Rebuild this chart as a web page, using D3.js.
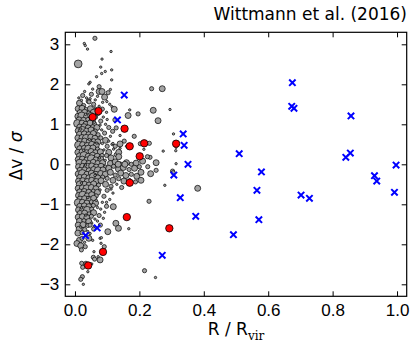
<!DOCTYPE html>
<html><head><meta charset="utf-8">
<script src="https://cdn.jsdelivr.net/npm/d3@7"></script>
<style>body{margin:0;background:#fff}svg{display:block}</style>
</head><body>
<script>
// Tick values
const xTicks = [0.0, 0.2, 0.4, 0.6, 0.8, 1.0];
const yTicks = [-3, -2, -1, 0, 1, 2, 3];

// Member galaxies outside the core: [R/Rvir, dv/sigma, size class 1..4]
const grayOuter = [
  [0.062,3.15,2],[0.029,3.02,1],[0.032,2.97,1],[0.039,2.88,1],[0.112,2.82,1],[0.010,2.51,4],
  [0.084,2.63,1],[0.080,2.43,1],[0.114,2.36,1],[0.094,2.32,1],[0.083,2.27,1],[0.067,2.19,1],
  [0.114,2.11,1],[0.047,2.05,1],[0.043,2.01,1],[0.075,1.94,2],[0.075,1.82,3],[0.084,1.82,3],
  [0.103,1.79,2],[0.110,1.87,1],[0.238,1.89,2],[0.271,1.89,3],[0.122,1.375,3],[0.170,1.36,1],
  [0.165,1.22,3],[0.196,1.26,2],[0.243,1.35,3],[0.258,1.09,3],[0.295,1.37,1],[0.124,1.11,2],
  [0.117,0.825,2],[0.184,0.70,2],[0.140,0.51,3],[0.153,0.58,2],[0.231,0.525,2],[0.203,0.515,2],
  [0.306,0.76,1],[0.314,0.425,1],[0.136,0.30,3],[0.136,0.19,3],[0.233,0.175,2],[0.214,0.375,1],
  [0.274,0.33,1],[0.313,0.34,1],[0.252,0.04,3],[0.134,0.0,3],[0.155,0.0,3],[0.314,0.015,1],
  [0.225,0.19,2],[0.210,0.08,3],[0.226,-0.06,2],[0.252,-0.15,2],[0.235,-0.235,3],[0.303,-0.17,2],
  [0.305,-0.21,2],[0.381,-0.60,3],[0.279,-0.525,1],[0.230,-0.925,2],[0.216,-2.66,2],[0.250,-2.83,1],
  [0.119,-1.06,3],[0.127,-1.475,3],[0.135,-1.6,3],[0.167,-1.61,1],[0.102,-1.685,3],[0.078,-1.85,1],
  [0.081,-1.975,1],[0.091,-2.06,2],[0.078,-2.39,3],[0.072,-2.31,1],[0.057,-2.325,2],[0.021,-2.475,2],
  [0.024,-2.575,2],[0.052,-2.49,1],[0.023,-2.81,2],[0.018,-2.875,2],[0.026,-3.0,1],
  [0.047,-1.52,2],[0.058,-1.62,2],[0.079,-1.52,2],[0.043,-1.85,3],[0.022,-1.85,2],[0.082,-1.835,1],
  [0.018,-2.035,3],[0.020,-2.14,2],[0.032,-2.06,2],[0.059,-2.185,1],[0.061,-2.37,2],[0.034,-2.475,2],
  [0.040,-2.685,1]
];

// Dense core of the cluster
const grayCore = [
  [0.024,1.72,2],[0.036,1.66,1],[0.051,1.75,2],[0.063,1.61,1],[0.092,1.68,3],[0.099,1.57,1],[0.041,1.58,2],
  [0.070,1.70,1],[0.030,1.82,1],[0.055,1.88,1],[0.108,1.50,1],[0.115,1.44,1],
  [0.014,1.53,3],[0.027,1.47,2],[0.044,1.56,2],[0.058,1.50,2],
  [0.010,1.39,3],[0.022,1.40,3],[0.035,1.37,2],[0.048,1.39,3],[0.063,1.41,1],
  [0.016,1.29,3],[0.030,1.30,3],[0.043,1.28,2],[0.057,1.30,3],
  [0.009,1.20,3],[0.021,1.21,4],[0.036,1.19,3],[0.049,1.22,3],[0.064,1.18,2],
  [0.013,1.11,3],[0.027,1.10,3],[0.040,1.12,2],[0.054,1.09,3],
  [0.008,1.02,4],[0.022,1.03,3],[0.034,1.00,3],[0.047,1.03,3],[0.061,1.01,2],
  [0.015,0.93,3],[0.028,0.94,3],[0.041,0.91,3],[0.055,0.94,2],[0.068,0.92,3],
  [0.010,0.84,3],[0.023,0.85,4],[0.036,0.83,3],[0.050,0.86,3],[0.063,0.83,2],
  [0.014,0.75,3],[0.029,0.76,3],[0.043,0.74,3],[0.057,0.77,3],[0.072,0.74,2],
  [0.009,0.66,3],[0.022,0.67,3],[0.035,0.65,4],[0.049,0.68,3],[0.062,0.65,3],
  [0.016,0.57,3],[0.030,0.58,3],[0.044,0.56,3],[0.058,0.59,2],[0.071,0.56,3],
  [0.011,0.48,4],[0.024,0.49,3],[0.038,0.47,3],[0.052,0.50,3],[0.066,0.47,3],
  [0.015,0.39,3],[0.029,0.40,3],[0.042,0.38,4],[0.056,0.41,3],[0.070,0.38,2],
  [0.009,0.30,3],[0.022,0.31,3],[0.036,0.29,3],[0.050,0.32,3],[0.064,0.29,3],[0.079,0.31,3],
  [0.014,0.21,3],[0.028,0.22,4],[0.041,0.20,3],[0.055,0.23,3],[0.069,0.20,3],[0.084,0.22,2],
  [0.010,0.12,3],[0.023,0.13,3],[0.037,0.11,3],[0.051,0.14,4],[0.065,0.11,3],[0.080,0.13,3],
  [0.015,0.03,4],[0.029,0.04,3],[0.043,0.02,3],[0.057,0.05,3],[0.071,0.02,3],[0.086,0.04,3],
  [0.011,-0.06,3],[0.024,-0.05,3],[0.038,-0.07,4],[0.052,-0.04,3],[0.066,-0.07,3],[0.081,-0.05,3],[0.095,-0.07,2],
  [0.016,-0.15,3],[0.030,-0.14,3],[0.044,-0.16,3],[0.058,-0.13,3],[0.072,-0.16,4],[0.087,-0.14,3],
  [0.010,-0.24,3],[0.023,-0.23,4],[0.037,-0.25,3],[0.051,-0.22,3],[0.065,-0.25,3],[0.080,-0.23,3],[0.094,-0.25,3],
  [0.015,-0.33,3],[0.029,-0.32,3],[0.043,-0.34,3],[0.057,-0.31,4],[0.071,-0.34,3],[0.086,-0.32,2],
  [0.011,-0.42,3],[0.024,-0.41,3],[0.038,-0.43,3],[0.052,-0.40,3],[0.066,-0.43,3],[0.081,-0.41,3],
  [0.016,-0.51,4],[0.030,-0.50,3],[0.044,-0.52,3],[0.058,-0.49,3],[0.073,-0.52,2],
  [0.010,-0.60,3],[0.023,-0.59,3],[0.037,-0.61,4],[0.051,-0.58,3],[0.065,-0.61,3],
  [0.015,-0.69,3],[0.029,-0.68,3],[0.043,-0.70,3],[0.057,-0.67,2],[0.070,-0.70,3],
  [0.011,-0.78,3],[0.024,-0.77,4],[0.038,-0.79,3],[0.052,-0.76,3],[0.066,-0.79,2],
  [0.016,-0.87,3],[0.030,-0.86,3],[0.044,-0.88,3],[0.058,-0.85,3],
  [0.010,-0.96,4],[0.023,-0.95,3],[0.037,-0.97,3],[0.051,-0.94,2],[0.064,-0.97,3],
  [0.015,-1.05,3],[0.029,-1.04,3],[0.043,-1.06,3],[0.057,-1.03,2],
  [0.011,-1.14,3],[0.024,-1.13,3],[0.038,-1.15,4],[0.052,-1.12,2],
  [0.016,-1.23,3],[0.030,-1.22,3],[0.044,-1.24,2],[0.058,-1.21,3],
  [0.010,-1.32,3],[0.023,-1.31,3],[0.037,-1.33,3],[0.051,-1.30,2],
  [0.014,-1.42,3],[0.028,-1.41,2],[0.043,-1.43,3],
  [0.010,-1.52,3],[0.025,-1.51,3],[0.040,-1.53,2],
  [0.013,-1.62,3],[0.030,-1.63,2],
  [0.009,-1.72,3],[0.022,-1.71,2],[0.047,-1.73,1],
  [0.014,-1.90,3],[0.006,-1.98,3],
  // loose edge of the core
  [0.075,1.45,1],[0.085,1.38,2],[0.098,1.30,1],[0.072,1.27,2],[0.088,1.18,1],[0.080,1.08,2],[0.095,1.00,1],
  [0.078,0.98,1],[0.105,0.92,2],[0.083,0.86,1],[0.092,0.78,2],[0.110,0.70,1],[0.080,0.66,2],[0.095,0.60,3],
  [0.085,0.52,1],[0.100,0.45,2],[0.115,0.50,1],[0.090,0.36,1],[0.105,0.30,3],[0.120,0.38,1],[0.098,0.22,2],
  [0.112,0.16,3],[0.094,0.10,1],[0.128,0.24,2],[0.125,0.45,2],[0.140,0.40,1],[0.118,0.52,1],[0.128,0.91,2],
  [0.140,0.72,1],[0.160,0.45,1],
  [0.110,0.02,3],[0.125,0.06,3],[0.140,0.01,2],[0.160,0.04,3],[0.175,0.00,2],[0.190,0.03,3],[0.105,-0.10,3],
  [0.120,-0.05,2],[0.135,-0.12,3],[0.150,-0.08,3],[0.168,-0.13,2],[0.185,-0.10,3],[0.200,-0.06,2],[0.110,-0.20,3],
  [0.125,-0.27,2],[0.142,-0.22,3],[0.158,-0.28,3],[0.175,-0.25,2],[0.192,-0.30,3],[0.205,-0.20,3],[0.100,-0.35,2],
  [0.118,-0.40,3],[0.136,-0.36,2],[0.152,-0.42,3],[0.170,-0.38,1],[0.188,-0.44,2],[0.205,-0.40,3],[0.095,-0.50,3],
  [0.112,-0.55,2],[0.130,-0.50,1],[0.145,-0.58,2],[0.100,-0.65,2],[0.118,-0.72,1],[0.090,-0.80,2],[0.108,-0.88,1],
  [0.085,-0.95,1],[0.098,-1.05,2],[0.080,-1.12,1],[0.092,-1.20,1],[0.075,-1.28,2],[0.088,-1.35,1],[0.070,-1.42,1],
  [0.060,-1.55,1],
  // faint members scattered through the core
  [0.020,1.60,1],[0.047,1.64,1],[0.012,1.66,1],[0.033,1.25,1],[0.060,1.05,1],[0.018,0.88,1],[0.045,0.62,1],
  [0.068,0.53,1],[0.027,0.35,1],[0.076,0.16,1],[0.033,-0.02,1],[0.062,-0.28,1],[0.020,-0.47,1],[0.078,-0.64,1],
  [0.040,-0.83,1],[0.066,-0.90,1],[0.020,-1.09,1],[0.070,-1.08,1],[0.034,-1.27,1],[0.062,-1.37,1],[0.052,-1.47,1],
  [0.018,-1.57,1],[0.040,-1.68,1],[0.030,-1.95,1],[0.055,-1.90,1],[0.100,1.12,1],[0.105,0.58,1],[0.112,-0.62,1],
  [0.098,-0.95,1],[0.086,1.55,1]
];

// Highlighted galaxies (red)
const redPts = [
  [0.073,1.33],[0.055,1.18],[0.154,0.89],[0.170,0.45],[0.215,0.525],[0.314,0.515],
  [0.201,0.20],[0.170,-0.46],[0.161,-1.32],[0.293,-1.60],[0.087,-2.19],[0.041,-2.53]
];

// Infalling groups (blue crosses)
const bluePts = [
  [0.675,2.04],[0.673,1.45],[0.680,1.40],[0.857,1.21],[0.336,0.76],[0.339,0.475],
  [0.510,0.265],[0.855,0.28],[0.841,0.175],[0.351,0.0],[0.997,-0.02],[0.579,-0.19],
  [0.307,-0.27],[0.930,-0.285],[0.937,-0.42],[0.565,-0.65],[0.702,-0.77],[0.728,-0.85],
  [0.327,-0.835],[0.992,-0.70],[0.375,-1.30],[0.571,-1.385],[0.492,-1.76],[0.271,-2.275],
  [0.153,1.73],[0.132,1.11],[0.033,-1.78],[0.069,-1.59]
];

const W = 413, H = 349;
const box = {left: 65.3, right: 406.7, top: 32.3, bottom: 296.3};

const x = d3.scaleLinear().domain([-0.03, 1.03]).range([box.left, box.right]);
const y = d3.scaleLinear().domain([-3.3, 3.3]).range([box.bottom, box.top]);
const r = d3.scaleLinear().domain([1, 4]).range([1.2, 3.9]);

const svg = d3.select("body").append("svg").attr("width", W).attr("height", H)
  .style("font-family", "'DejaVu Sans', sans-serif");

// points
svg.append("g").selectAll("circle").data(grayCore.concat(grayOuter)).join("circle")
  .attr("cx", d => x(d[0])).attr("cy", d => y(d[1])).attr("r", d => r(d[2]))
  .attr("fill", "#a3a3a3").attr("stroke", "#000").attr("stroke-width", 0.7);

svg.append("g").selectAll("circle").data(redPts).join("circle")
  .attr("cx", d => x(d[0])).attr("cy", d => y(d[1])).attr("r", 3.7)
  .attr("fill", "#ff0000").attr("stroke", "#000").attr("stroke-width", 0.8);

const s = 3.2;
svg.append("g").selectAll("path").data(bluePts).join("path")
  .attr("transform", d => `translate(${x(d[0])},${y(d[1])})`)
  .attr("d", `M${-s},${-s}L${s},${s}M${-s},${s}L${s},${-s}`)
  .attr("stroke", "#0000ff").attr("stroke-width", 2).attr("fill", "none");

// axes with inward ticks on all sides
const tl = 5;
function styleAxis(g) {
  g.select(".domain").remove();
  g.selectAll(".tick line").attr("stroke", "#000").attr("stroke-width", 1);
  g.selectAll("text").attr("fill", "#000").style("font-size", "17px");
}
svg.append("g").attr("transform", `translate(0,${box.bottom})`)
  .call(d3.axisBottom(x).tickValues(xTicks).tickFormat(d3.format(".1f")).tickSizeInner(-tl).tickSizeOuter(0).tickPadding(8))
  .call(styleAxis);
svg.append("g").attr("transform", `translate(0,${box.top})`)
  .call(d3.axisTop(x).tickValues(xTicks).tickFormat("").tickSizeInner(-tl).tickSizeOuter(0))
  .call(styleAxis);
svg.append("g").attr("transform", `translate(${box.left},0)`)
  .call(d3.axisLeft(y).tickValues(yTicks).tickFormat(d3.format("d")).tickSizeInner(-tl).tickSizeOuter(0).tickPadding(6))
  .call(styleAxis);
svg.append("g").attr("transform", `translate(${box.right},0)`)
  .call(d3.axisRight(y).tickValues(yTicks).tickFormat("").tickSizeInner(-tl).tickSizeOuter(0))
  .call(styleAxis);

svg.append("rect").attr("x", box.left).attr("y", box.top)
  .attr("width", box.right - box.left).attr("height", box.bottom - box.top)
  .attr("fill", "none").attr("stroke", "#000").attr("stroke-width", 1.2);

// labels
svg.append("text").attr("x", 407).attr("y", 20).attr("text-anchor", "end")
  .style("font-size", "17px").text("Wittmann et al. (2016)");

const xl = svg.append("text").attr("x", (box.left + box.right) / 2).attr("y", 334.5)
  .attr("text-anchor", "middle").style("font-size", "17px");
xl.append("tspan").text("R / R");
xl.append("tspan").attr("dy", 5).style("font-family", "'DejaVu Serif', serif")
  .style("font-size", "12px").text("vir");

const yl = svg.append("text")
  .attr("transform", `translate(22,156) rotate(-90)`)
  .attr("text-anchor", "middle").style("font-size", "17px");
yl.append("tspan").text("Δv / ");
yl.append("tspan").style("font-style", "italic").text("σ");
</script>
</body></html>
